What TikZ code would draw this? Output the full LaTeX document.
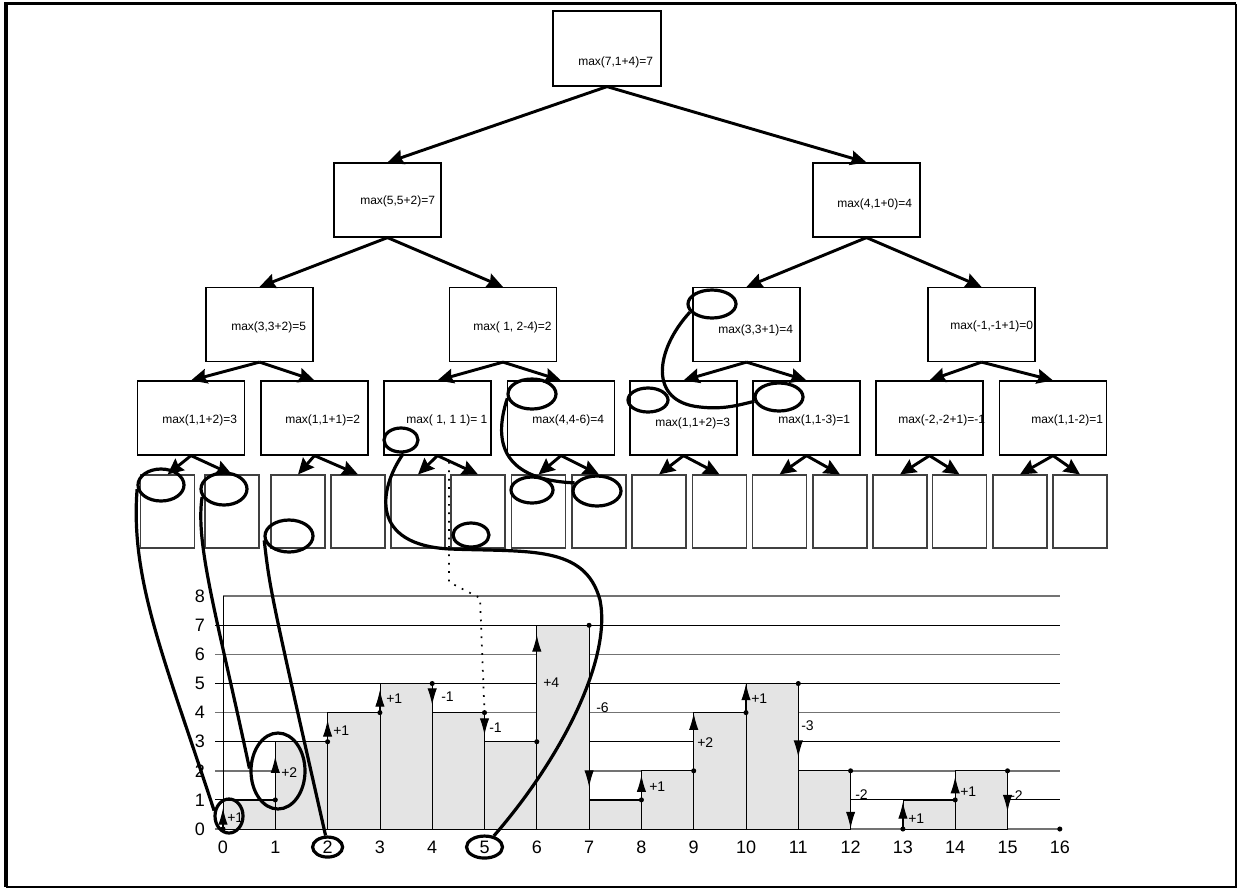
\documentclass[tikz,border=0pt]{standalone}
\usepackage{fontspec}
\setmainfont{Liberation Sans}
\usetikzlibrary{arrows.meta,shapes.geometric}
\definecolor{barc}{HTML}{E4E4E4}
\begin{document}
\begin{tikzpicture}[x=0.75pt,y=-0.75pt,
  tbox/.style={draw, line width=0.9pt, minimum width=80.25pt, minimum height=55.5pt, inner sep=0pt},
  leafbox/.style={draw=black!75, line width=0.8pt, minimum width=40.5pt, minimum height=54.75pt, inner sep=0pt},
  tarr/.style={line width=2.2pt, -{Stealth[length=12pt,width=11pt,inset=1.5pt]}},
  tlbl/.style={font=\fontsize{9pt}{10pt}\selectfont, inner sep=0pt, anchor=west},
  slbl/.style={font=\fontsize{10.5pt}{11pt}\selectfont, inner sep=0pt, anchor=west},
  albl/.style={font=\fontsize{13.5pt}{15pt}\selectfont, inner sep=0pt},
  ring/.style={ellipse, draw, line width=2.4pt, inner sep=0pt},
  hand/.style={line width=2.4pt},
  stepar/.style={line width=0.8pt, -{Latex[length=12.5pt,width=7pt]}},
  dotline/.style={line width=1.3pt, dash pattern=on 1.3pt off 5pt},
  oddgrid/.style={line width=0.7pt},
  evengrid/.style={draw=black!55, line width=1.1pt}
]
\useasboundingbox (0,0) rectangle (1241,890);
% frame
\draw[line width=2.4pt] (6,887) -- (6,3.5) -- (1236,3.5);
\draw[line width=1.2pt] (1236,3.5) -- (1236,887) -- (6,887);

% ---------- tree boxes ----------
\node[tbox, minimum width=81pt, minimum height=56.25pt] (r) at (607,48.5) {};
\node[tbox] (a) at (387.5,200) {};
\node[tbox] (b) at (866.5,200) {};
\node[tbox] (aa) at (259.5,324.5) {};
\node[tbox] (ab) at (503,324.5) {};
\node[tbox] (ba) at (746.5,324.5) {};
\node[tbox] (bb) at (981.5,324.5) {};
\foreach \n/\x in {1/191,2/314.5,3/437.5,4/561,5/683.5,6/806.5,7/929.5,8/1053}
  \node[tbox] (c\n) at (\x,418) {};
\foreach \n/\x in {1/167.5,2/232,3/298,4/358,5/418,6/478,7/538.5,8/599,9/659,10/719.5,11/779.5,12/840,13/900,14/959.5,15/1020,16/1080}
  \node[leafbox] (l\n) at (\x,511.5) {};

% ---------- tree texts ----------
\node[tlbl] (tr) at (578,62) {max(7,1+4)=7};
\node[tlbl] (ta) at (360,201) {max(5,5+2)=7};
\node[tlbl] (tb) at (837,204) {max(4,1+0)=4};
\node[tlbl] (taa) at (231,327) {max(3,3+2)=5};
\node[tlbl] (tab) at (473,327) {max( 1, 2-4)=2};
\node[tlbl] (tba) at (718,330) {max(3,3+1)=4};
\node[tlbl] (tbb) at (950,326) {max(-1,-1+1)=0};
\node[tlbl] (tc1) at (162,420) {max(1,1+2)=3};
\node[tlbl] (tc2) at (285,420) {max(1,1+1)=2};
\node[tlbl] (tc3) at (406,420) {max( 1, 1 1)= 1};
\node[tlbl] (tc4) at (532,420) {max(4,4-6)=4};
\node[tlbl] (tc5) at (655,423) {max(1,1+2)=3};
\node[tlbl] (tc6) at (778,420) {max(1,1-3)=1};
\node[tlbl] (tc7) at (898,420) {max(-2,-2+1)=-1};
\node[tlbl] (tc8) at (1031,420) {max(1,1-2)=1};

% ---------- tree arrows ----------
\draw[tarr] (r.south) -- (a.north);
\draw[tarr] (r.south) -- (b.north);
\draw[tarr] (a.south) -- (aa.north);
\draw[tarr] (a.south) -- (ab.north);
\draw[tarr] (b.south) -- (ba.north);
\draw[tarr] (b.south) -- (bb.north);
\draw[tarr] (aa.south) -- (c1.north);
\draw[tarr] (aa.south) -- (c2.north);
\draw[tarr] (ab.south) -- (c3.north);
\draw[tarr] (ab.south) -- (c4.north);
\draw[tarr] (ba.south) -- (c5.north);
\draw[tarr] (ba.south) -- (c6.north);
\draw[tarr] (bb.south) -- (c7.north);
\draw[tarr] (bb.south) -- (c8.north);
\foreach \p/\l/\rr in {1/1/2,2/3/4,3/5/6,4/7/8,5/9/10,6/11/12,7/13/14,8/15/16}{
  \draw[tarr] (c\p.south) -- (l\l.north);
  \draw[tarr] (c\p.south) -- (l\rr.north);
}

% ---------- chart ----------
\begin{scope}[shift={(223,829)}, x=39.225pt, y=21.825pt]
  \foreach \v in {1,3,5,7} \draw[oddgrid] (-0.15,\v) -- (16,\v);
  \foreach \v in {0,2,4,6} \draw[evengrid] (-0.15,\v) -- (16,\v);
  \draw[evengrid] (0,8) -- (16,8);
  \foreach \i/\h in {0/1,1/3,2/4,3/5,4/4,5/3,6/7,7/1,8/2,9/4,10/5,11/2,13/1,14/2}
    \filldraw[fill=barc, draw=black, line width=0.6pt] (\i,0) rectangle ++(1,\h);
  \draw[line width=0.7pt] (0,0) -- (0,8);
  \foreach \i/\p in {0/0,1/1,2/3,3/4,4/5,5/4,6/3,7/7,8/1,9/2,10/4,11/5,12/2,13/0,14/1,15/2,16/0}
    \fill (\i,\p) circle (1.9pt);
  \coordinate (p5) at (5,4);
  \foreach \i/\p/\t in {0/0/0.72,1/1/2.5,2/3/3.75,3/4/4.78,4/5/4.26,5/4/3.23,6/3/6.67,7/7/1.44,8/1/1.85,9/2/3.98,10/4/5.0,11/5/2.47,12/2/0.02,13/0/0.93,14/1/1.8,15/2/0.6}
    \draw[stepar] (\i,\p) -- (\i,\t);
  \foreach \v in {0,...,8} \node[albl] (y\v) at (-0.44,\v) {\v};
  \foreach \i in {0,1,3,4,6,7,8,9,10,11,12,13,14,15,16} \node[albl] (x\i) at (\i,-0.62) {\i};
  \node[albl, ring, minimum width=22.5pt, minimum height=15pt] (x2) at (2,-0.62) {2};
  \node[albl, ring, minimum width=27pt, minimum height=16.5pt] (x5) at (5,-0.62) {5};
\end{scope}

% ---------- step labels ----------
\foreach \n/\x/\y/\s in {0/227/818/+1,1/281/773/+2,2/333/731/+1,3/386/699/+1,4/441/697/-1,5/489/728/-1,6/543/683/+4,7/596/708/-6,8/649/787/+1,9/697/743/+2,10/751/699/+1,11/801/726/-3,12/855/795/-2,13/908/819/+1,14/960/792/+1,15/1010/796/-2}
  \node[slbl] (s\n) at (\x,\y) {\s};

% ---------- hand-drawn ellipses ----------
\node[ring, minimum width=34.5pt, minimum height=24pt] (eL1) at (161,485) {};
\node[ring, minimum width=34.5pt, minimum height=24pt] (eL2) at (224,489) {};
\node[ring, minimum width=36pt, minimum height=24pt] (eL3) at (289,536) {};
\node[ring, minimum width=25.5pt, minimum height=18pt] (eB3) at (401,440) {};
\node[ring, minimum width=27pt, minimum height=18pt] (eL6) at (471,535) {};
\node[ring, minimum width=36pt, minimum height=22.5pt] (eB4) at (532,394) {};
\node[ring, minimum width=31.5pt, minimum height=19.5pt] (eL7) at (532,490) {};
\node[ring, minimum width=36pt, minimum height=22.5pt] (eL8) at (597,491) {};
\node[ring, minimum width=36pt, minimum height=21pt] (eC) at (712,304) {};
\node[ring, minimum width=30pt, minimum height=18pt] (eB5) at (648,400) {};
\node[ring, minimum width=36pt, minimum height=21pt] (eB6) at (779,397) {};
\node[ring, minimum width=21pt, minimum height=25.5pt] (eP0) at (229,816) {};
\node[ring, minimum width=40.5pt, minimum height=57pt] (eP1) at (278,771) {};

% ---------- hand-drawn curves ----------
\draw[hand] (eL1.190) .. controls (130,580) and (165,660) .. (eP0.160);
\draw[hand] (eL2.200) .. controls (195,545) and (218,620) .. (eP1.175);
\draw[hand] (eL3.190) .. controls (270,590) .. (x2.100);
\draw[hand] (eB3.280) .. controls (378,490) and (370,545) .. (450,549)
   .. controls (530,552) and (585,545) .. (600,600)
   .. controls (612,660) and (560,760) .. (x5.50);
\draw[hand] (eB4.190) .. controls (492,445) and (505,480) .. (eL8.160);
\draw[hand] (eC.200) .. controls (655,350) and (648,402) .. (700,407)
   .. controls (725,410) and (742,404) .. (eB6.190);

% ---------- dotted guide ----------
\coordinate (d0) at (449,462);
\coordinate (d1) at (449,582);
\coordinate (d2) at (480,598);
\draw[dotline] (d0) -- (d1) -- (d2) -- (p5);
\end{tikzpicture}
\end{document}
